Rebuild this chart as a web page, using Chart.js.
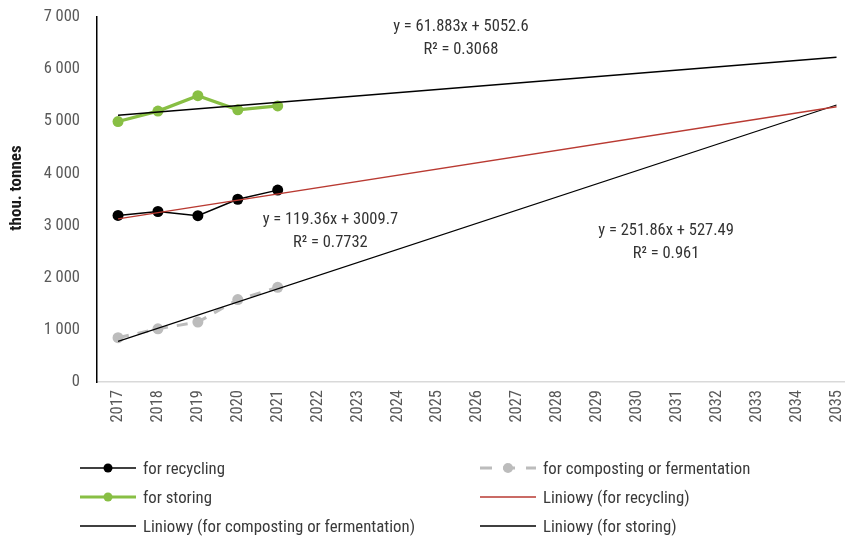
<!DOCTYPE html>
<html>
<head>
<meta charset="utf-8">
<script src="https://cdn.jsdelivr.net/npm/chart.js@4/dist/chart.umd.min.js"></script>
<style>
  html, body { margin: 0; padding: 0; background: #fff; overflow: hidden; }
  #wrap { position: relative; width: 845px; height: 539px; overflow: hidden; }
  #chart { display: block; }
  #legend { position: absolute; left: 0; top: 0; width: 845px; height: 539px; pointer-events: none;
            font-family: 'Roboto Condensed', 'Liberation Sans Narrow', Roboto, sans-serif; font-size: 16.8px; color: #3a3a3a; }
  .item { position: absolute; height: 22px; display: flex; align-items: center; white-space: nowrap; }
  .item svg { display: block; margin-right: 6px; }
</style>
</head>
<body>
<div id="wrap">
  <canvas id="chart" width="852" height="539"></canvas>
  <div id="legend"></div>
</div>
<script>
// Years shown on the horizontal axis
const years = ['2017','2018','2019','2020','2021','2022','2023','2024','2025','2026',
               '2027','2028','2029','2030','2031','2032','2033','2034','2035'];
const observedYears = [2017, 2018, 2019, 2020, 2021];

// Waste streams, thousand tonnes
const recycling  = [3195, 3270, 3190, 3505, 3680];
const composting = [850, 1020, 1150, 1580, 1815];
const storing    = [4995, 5195, 5490, 5220, 5295];

const seriesNames = ['for recycling', 'for composting or fermentation', 'for storing'];
const trendNames  = ['Liniowy (for recycling)', 'Liniowy (for composting or fermentation)', 'Liniowy (for storing)'];

// Linear trend coefficients (x = 1 for 2017) and fit quality
const trendSlopes     = [119.36, 251.86, 61.883];
const trendIntercepts = [3009.7, 527.49, 5052.6];
const trendR2         = ['0.7732', '0.961', '0.3068'];
const trendEquations  = ['y = 119.36x + 3009.7', 'y = 251.86x + 527.49', 'y = 61.883x + 5052.6'];
// Where each equation box sits, in axis units [year, value]
const equationAnchors = [[2022.32, 3117], [2030.73, 2907], [2025.59, 6808]];

const yTicks = [0, 1000, 2000, 3000, 4000, 5000, 6000, 7000];
const yTitle = 'thou. tonnes';

const FONT = "'Roboto Condensed', 'Liberation Sans Narrow', Roboto, sans-serif";
const firstYear = 2017, lastYear = 2035;

const points = vals => observedYears.map((yr, i) => ({ x: yr, y: vals[i] }));
const trendLine = k => [firstYear, lastYear].map(yr => ({
  x: yr, y: trendSlopes[k] * (yr - firstYear + 1) + trendIntercepts[k]
}));

const styles = {
  recycling:  { color: '#000000', width: 1.5 },
  composting: { color: '#bcbcbc', width: 3, dash: [11, 9] },
  storing:    { color: '#88bf44', width: 3.2 },
  trends: [ { color: '#b93a32', width: 1.4 }, { color: '#000000', width: 1.1 }, { color: '#000000', width: 1.6 } ]
};

const dataSeries = [
  { label: seriesNames[0], data: points(recycling), s: styles.recycling },
  { label: seriesNames[1], data: points(composting), s: styles.composting },
  { label: seriesNames[2], data: points(storing), s: styles.storing }
].map(d => ({
  label: d.label, data: d.data, order: 2,
  borderColor: d.s.color, backgroundColor: d.s.color, borderWidth: d.s.width,
  borderDash: d.s.dash || [], pointRadius: 5.5, pointBorderWidth: 0,
  pointBackgroundColor: d.s.color, pointBorderColor: d.s.color, tension: 0
}));

const trendSeries = trendNames.map((name, k) => ({
  label: name, data: trendLine(k), order: 1,
  borderColor: styles.trends[k].color, borderWidth: styles.trends[k].width,
  pointRadius: 0, tension: 0
}));

// Trend equations plus the rotated value-axis title
const textPlugin = {
  id: 'equations',
  afterDatasetsDraw(chart) {
    const { ctx, scales: { x, y } } = chart;
    ctx.save();
    ctx.font = '16.5px ' + FONT;
    ctx.fillStyle = '#333';
    ctx.textAlign = 'center';
    ctx.textBaseline = 'middle';
    equationAnchors.forEach((a, k) => {
      const px = x.getPixelForValue(a[0]);
      const py = y.getPixelForValue(a[1]);
      ctx.fillText(trendEquations[k], px, py);
      ctx.fillText('R\u00b2 = ' + trendR2[k], px, py + 23);
    });
    ctx.translate(17, 188);
    ctx.rotate(-Math.PI / 2);
    ctx.font = 'bold 17px ' + FONT;
    ctx.fillStyle = '#1a1a1a';
    ctx.fillText(yTitle, 0, 0);
    ctx.restore();
  }
};

const fmt = v => String(v).replace(/\B(?=(\d{3})+(?!\d))/g, ' ');

new Chart(document.getElementById('chart'), {
  type: 'line',
  data: { datasets: [...trendSeries, ...dataSeries] },
  options: {
    responsive: false,
    animation: false,
    events: [],
    layout: { padding: { top: 17, right: 0, bottom: 93, left: 0 } },
    plugins: { legend: { display: false }, tooltip: { enabled: false } },
    scales: {
      x: {
        type: 'linear',
        min: 2016.473, max: 2035.25,
        grid: { display: false, drawTicks: false },
        border: { display: true, color: '#d9d9d9', width: 1.5 },
        ticks: {
          stepSize: 1, includeBounds: false, autoSkip: false, maxTicksLimit: 40,
          maxRotation: 90, minRotation: 90, padding: 8,
          color: '#595959', font: { family: FONT, size: 16.5 },
          callback: v => years[v - firstYear]
        },
        afterFit: s => { s.height = 64; s.paddingLeft = 0; s.paddingRight = 0; }
      },
      y: {
        min: 0, max: 7000,
        grid: { display: false, drawTicks: false },
        border: { display: true, color: '#000', width: 1.5 },
        ticks: {
          stepSize: 1000, padding: 17, color: '#595959', font: { family: FONT, size: 16.5 },
          callback: v => yTicks.includes(v) ? fmt(v) : ''
        },
        afterFit: s => { s.width = 97; s.paddingTop = 0; s.paddingBottom = 0; }
      }
    }
  },
  plugins: [textPlugin]
});

// Legend: two columns, three rows
const legendItems = [
  { text: seriesNames[0], s: styles.recycling, marker: true, col: 0, row: 0 },
  { text: seriesNames[1], s: styles.composting, marker: true, col: 1, row: 0 },
  { text: seriesNames[2], s: styles.storing, marker: true, col: 0, row: 1 },
  { text: trendNames[0], s: styles.trends[0], marker: false, col: 1, row: 1 },
  { text: trendNames[1], s: styles.trends[1], marker: false, col: 0, row: 2 },
  { text: trendNames[2], s: styles.trends[2], marker: false, col: 1, row: 2 }
];
const colX = [80, 480], rowY = [468, 497, 526];
const legend = document.getElementById('legend');
legendItems.forEach(it => {
  const div = document.createElement('div');
  div.className = 'item';
  div.style.left = colX[it.col] + 'px';
  div.style.top = (rowY[it.row] - 11) + 'px';
  const dash = it.s.dash ? `stroke-dasharray="12 11"` : '';
  const lw = it.marker ? it.s.width : Math.max(it.s.width, 1.6);
  const dot = it.marker ? `<circle cx="28" cy="11" r="${it.s.dash ? 5 : 4.5}" fill="${it.s.color}"/>` : '';
  div.innerHTML = `<svg width="57" height="22"><line x1="0" y1="11" x2="56" y2="11" stroke="${it.s.color}" stroke-width="${lw}" ${dash}/>${dot}</svg><span>${it.text}</span>`;
  legend.appendChild(div);
});
</script>
</body>
</html>
